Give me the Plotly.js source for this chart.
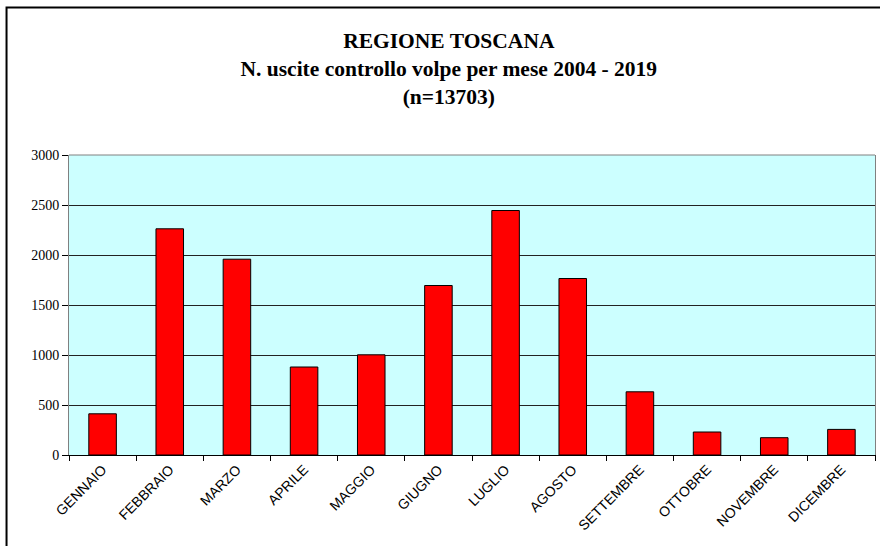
<!DOCTYPE html>
<html>
<head>
<meta charset="utf-8">
<script src="https://cdn.plot.ly/plotly-3.0.1.min.js"></script>
<style>
html,body{margin:0;padding:0;background:#fff;overflow:hidden;}
#chart{width:880px;height:546px;}
</style>
</head>
<body>
<div id="chart"></div>
<script>
const months = ["GENNAIO","FEBBRAIO","MARZO","APRILE","MAGGIO","GIUGNO","LUGLIO","AGOSTO","SETTEMBRE","OTTOBRE","NOVEMBRE","DICEMBRE"];
const uscite = [412, 2262, 1958, 880, 1002, 1695, 2445, 1765, 632, 230, 173, 256];
const yTicks = [0, 500, 1000, 1500, 2000, 2500, 3000];
const titleLines = ["REGIONE TOSCANA", "N. uscite controllo volpe per mese 2004 - 2019", "(n=13703)"];

const trace = {
  type: "bar",
  x: months,
  y: uscite,
  marker: {color: "#ff0000", line: {color: "#000000", width: 1}},
  hoverinfo: "x+y"
};

const layout = {
  width: 880,
  height: 546,
  margin: {l: 69, r: 5, t: 155, b: 91, pad: 0},
  paper_bgcolor: "#ffffff",
  plot_bgcolor: "#ccffff",
  showlegend: false,
  bargap: 0.59,
  title: {
    text: titleLines.map(s => "<b>" + s + "</b>").join("<br>"),
    font: {family: "Liberation Serif, serif", size: 21.5, color: "#000"},
    x: 0.51, xref: "container", xanchor: "center",
    y: 0.912, yref: "container", yanchor: "top"
  },
  xaxis: {
    type: "category",
    tickson: "boundaries",
    ticks: "outside",
    ticklen: 5,
    tickcolor: "#000",
    tickangle: -45,
    showline: true,
    linecolor: "#000",
    linewidth: 1,
    showgrid: false,
    tickfont: {family: "Liberation Sans, Arial, sans-serif", size: 14, color: "#000"}
  },
  yaxis: {
    range: [0, 3000],
    tickvals: yTicks,
    ticktext: yTicks.map(String),
    ticks: "outside",
    ticklen: 6,
    tickcolor: "#000",
    showline: true,
    linecolor: "#808080",
    mirror: true,
    showgrid: true,
    gridcolor: "#222",
    gridwidth: 1,
    zeroline: false,
    tickfont: {family: "Liberation Serif, serif", size: 14, color: "#000"}
  },
  shapes: [
    {type: "line", xref: "paper", yref: "paper", x0: 0, x1: 1, y0: 1, y1: 1,
     line: {color: "#808080", width: 1}},
    {type: "rect", xref: "paper", yref: "paper",
     x0: -0.0775, x1: 1.05, y0: -0.5, y1: 1.4917,
     line: {color: "#000", width: 2}}
  ]
};

Plotly.newPlot("chart", [trace], layout, {displayModeBar: false, staticPlot: true});
</script>
</body>
</html>
